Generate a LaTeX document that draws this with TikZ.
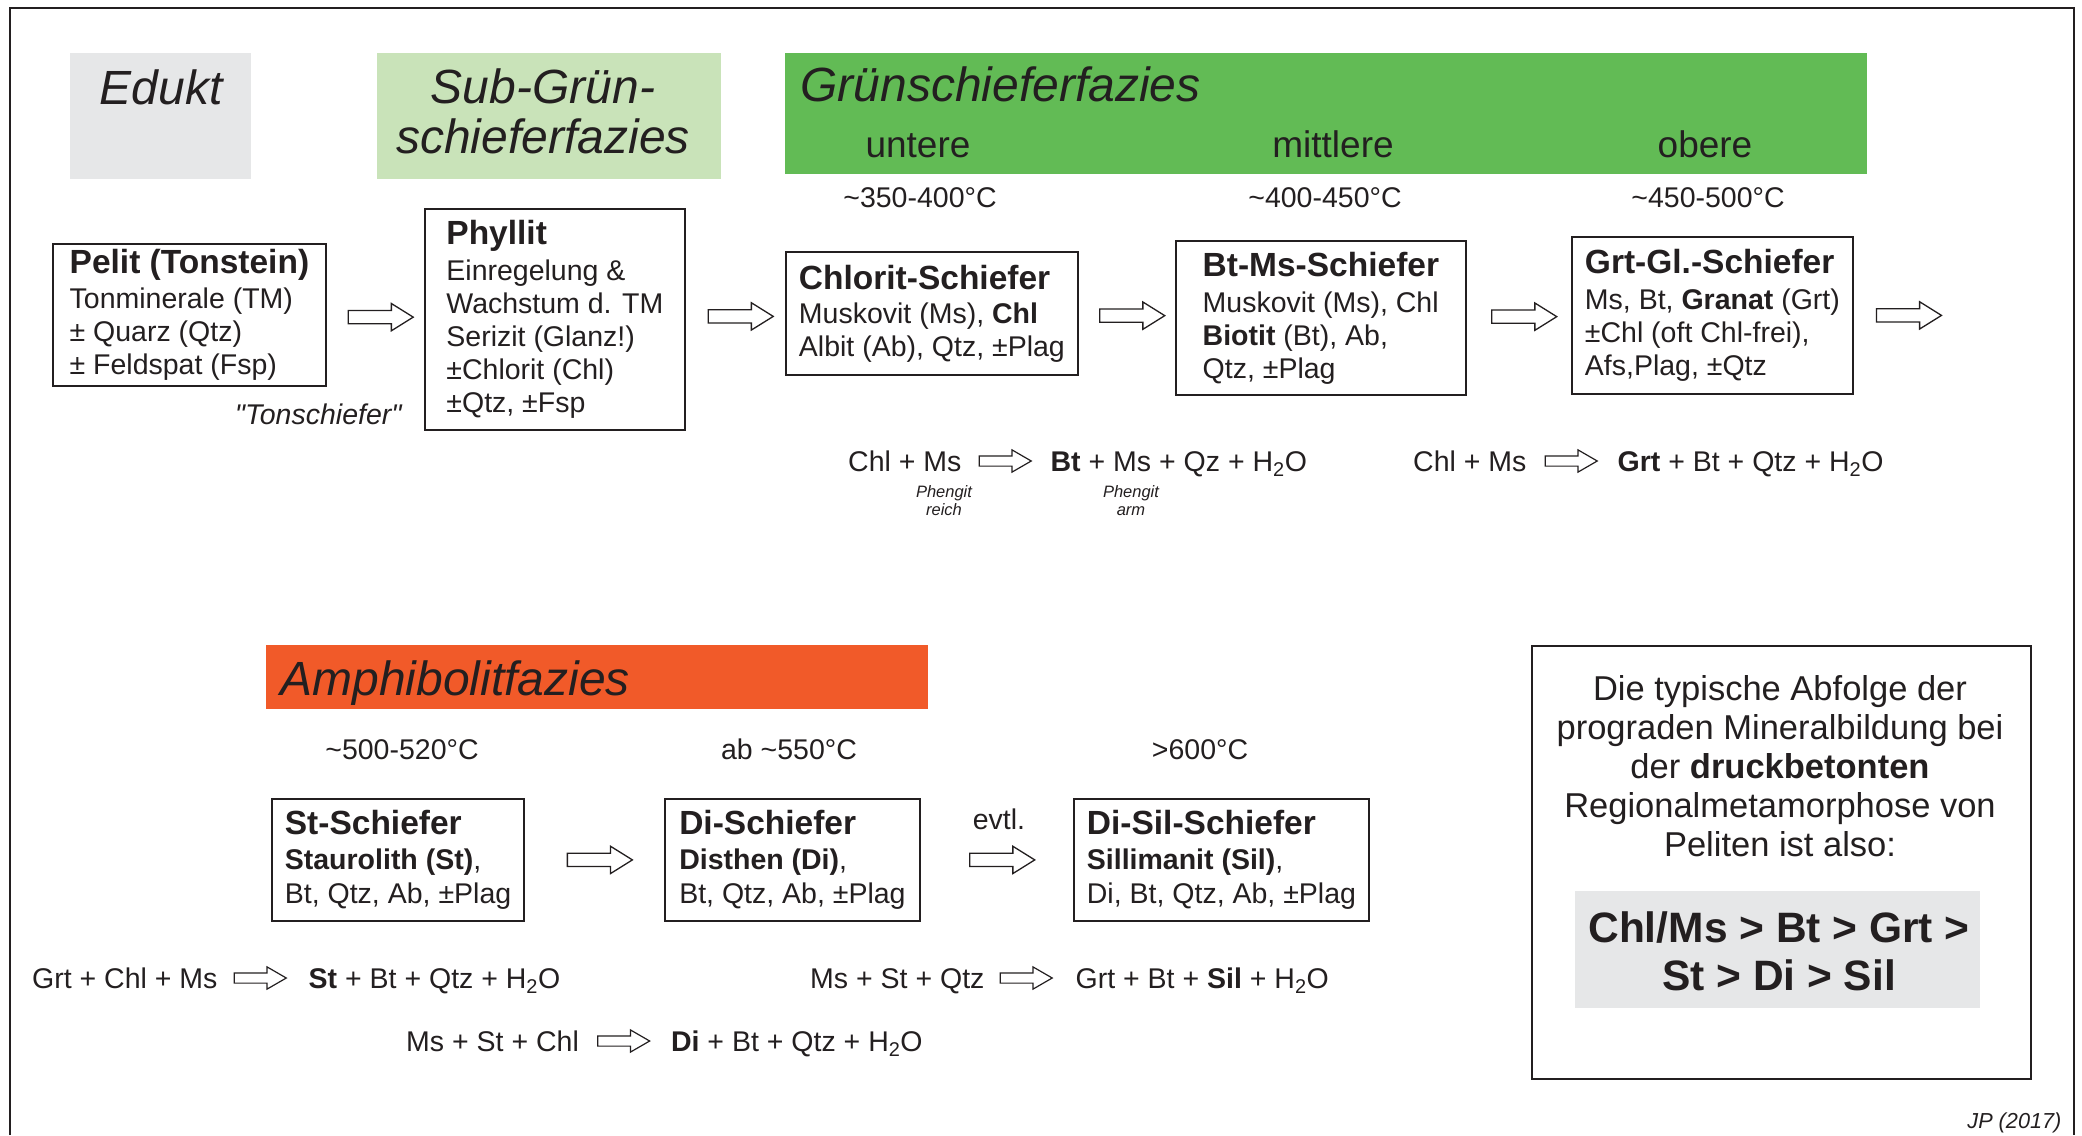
\documentclass[tikz,border=0pt]{standalone}
\usepackage{fontspec}
\setmainfont{Liberation Sans}
\usetikzlibrary{shapes.arrows,positioning,calc}
\definecolor{ink}{HTML}{231F20}
\definecolor{edgray}{HTML}{E6E7E8}
\definecolor{subgreen}{HTML}{C9E3B9}
\definecolor{grgreen}{HTML}{62BB55}
\definecolor{amorange}{HTML}{F15A29}
\newcommand{\rtitle}[1]{{\fontsize{33.5}{38}\selectfont\bfseries #1}}

\begin{document}
\begin{tikzpicture}[x=1pt,y=-1pt,
	every node/.style={text=ink},
	body/.style={font=\fontsize{28.5}{33}\selectfont},
	head/.style={font=\fontsize{48}{50}\selectfont\itshape},
	zone/.style={font=\fontsize{37}{40}\selectfont,anchor=base},
	temp/.style={body,anchor=base},
	rock/.style={body,draw=ink,line width=1.8pt,fill=white,align=left,inner xsep=13pt,inner ysep=4pt,anchor=north west},
	bigarr/.style={single arrow,draw=ink,line width=1.3pt,fill=white,inner xsep=0pt,inner ysep=6pt,minimum height=65pt,single arrow head extend=7pt,single arrow tip angle=64},
	smallarr/.style={single arrow,draw=ink,line width=1.2pt,fill=white,inner xsep=0pt,inner ysep=4.5pt,minimum height=52pt,single arrow head extend=6pt,single arrow tip angle=60},
	eq/.style={body,inner sep=0pt,text height=24pt,text depth=4pt},
	phen/.style={font=\fontsize{16.5}{18}\selectfont\itshape,align=center,anchor=north,inner sep=0pt}]

	\useasboundingbox (0,0) rectangle (2082,1135);
	\draw[ink,line width=2pt] (10,1135) -- (10,8) -- (2074,8) -- (2074,1135);

	\fill[edgray] (70,53) rectangle (251,179);
	\fill[subgreen] (377,53) rectangle (721,179);
	\fill[grgreen] (785,53) rectangle (1867,174);
	\fill[amorange] (266,645) rectangle (928,709);

	\node[head,anchor=base] (edukt) at (161,104) {Edukt};
	\node[head,align=center] (subgr) at (543,111) {Sub-Grün-\\schieferfazies};
	\node[head,anchor=base west] (gsf) at (797,101) {Grünschieferfazies};
	\node[zone] (untere) at (918,157) {untere};
	\node[zone] (mittlere) at (1333,157) {mittlere};
	\node[zone] (obere) at (1705,157) {obere};
	\node[head,anchor=base west] (amph) at (277,695) {Amphibolitfazies};

	\node[temp] (t1) at (920,207) {\textasciitilde350-400°C};
	\node[temp] (t2) at (1325,207) {\textasciitilde400-450°C};
	\node[temp] (t3) at (1708,207) {\textasciitilde450-500°C};
	\node[temp] (t4) at (402,759) {\textasciitilde500-520°C};
	\node[temp] (t5) at (789,759) {ab \textasciitilde550°C};
	\node[temp] (t6) at (1200,759) {>600°C};

	\node[rock,minimum width=273pt,minimum height=142pt] (pelit) at (52,243) {\rtitle{Pelit (Tonstein)}\\[2pt]Tonminerale (TM)\\± Quarz (Qtz)\\± Feldspat (Fsp)};
	\node[rock,minimum width=260pt,minimum height=221pt] (phyllit) at (424,208) {\rtitle{Phyllit}\\[3pt]Einregelung \&\\Wachstum d. TM\\Serizit (Glanz!)\\±Chlorit (Chl)\\±Qtz, ±Fsp};
	\node[rock,minimum width=292pt,minimum height=123pt] (chlorit) at (785,251) {\rtitle{Chlorit-Schiefer}\\[1pt]Muskovit (Ms), \textbf{Chl}\\Albit (Ab), Qtz, ±Plag};
	\node[rock,minimum width=290pt,minimum height=154pt] (btms) at (1175,240) {\rtitle{Bt-Ms-Schiefer}\\[3pt]Muskovit (Ms), Chl\\\textbf{Biotit} (Bt), Ab,\\Qtz, ±Plag};
	\node[rock,minimum width=281pt,minimum height=157pt] (grtgl) at (1571,236) {\rtitle{Grt-Gl.-Schiefer}\\[3pt]Ms, Bt, \textbf{Granat} (Grt)\\±Chl (oft Chl-frei),\\Afs,Plag, ±Qtz};
	\node[font=\fontsize{28.5}{33}\selectfont\itshape,anchor=base east] (tonsch) at (405,424) {\textquotedbl Tonschiefer\textquotedbl};

	\node[rock,minimum width=252pt,minimum height=122pt] (stsch) at (271,798) {\rtitle{St-Schiefer}\\[2pt]\textbf{Staurolith (St)},\\[1pt]Bt, Qtz, Ab, ±Plag};
	\node[rock,minimum width=255pt,minimum height=122pt] (disch) at (664,798) {\rtitle{Di-Schiefer}\\[2pt]\textbf{Disthen (Di)},\\[1pt]Bt, Qtz, Ab, ±Plag};
	\node[rock,minimum width=295pt,minimum height=122pt] (disil) at (1073,798) {\rtitle{Di-Sil-Schiefer}\\[2pt]\textbf{Sillimanit (Sil)},\\[1pt]Di, Bt, Qtz, Ab, ±Plag};

	\node[bigarr] (a1) at ($(pelit.east)!.5!(phyllit.west)$) {};
	\node[bigarr] (a2) at ($(phyllit.east)!.5!(chlorit.west)$) {};
	\node[bigarr] (a3) at ($(chlorit.east)!.5!(btms.west)$) {};
	\node[bigarr] (a4) at ($(btms.east)!.5!(grtgl.west)$) {};
	\node[bigarr,right=22pt of grtgl] (a5) {};
	\node[bigarr] (a6) at ($(stsch.east)!.5!(disch.west)$) {};
	\node[bigarr] (a7) at ($(disch.east)!.5!(disil.west)$) {};
	\node[temp] (evtl) at (999,829) {evtl.};

	\node[eq,anchor=base west] (eq1l) at (848,471) {Chl + Ms};
	\node[smallarr,right=17pt of eq1l] (eq1a) {};
	\node[eq,right=18pt of eq1a] (eq1r) {\textbf{Bt} + Ms + Qz + H\textsubscript{2}O};
	\node[phen] (ph1) at (944,485) {Phengit\\reich};
	\node[phen] (ph2) at (1131,485) {Phengit\\arm};

	\node[eq,anchor=base west] (eq2l) at (1413,471) {Chl + Ms};
	\node[smallarr,right=18pt of eq2l] (eq2a) {};
	\node[eq,right=19pt of eq2a] (eq2r) {\textbf{Grt} + Bt + Qtz + H\textsubscript{2}O};

	\node[eq,anchor=base west] (eq3l) at (32,988) {Grt + Chl + Ms};
	\node[smallarr,right=16pt of eq3l] (eq3a) {};
	\node[eq,right=21pt of eq3a] (eq3r) {\textbf{St} + Bt + Qtz + H\textsubscript{2}O};

	\node[eq,anchor=base west] (eq4l) at (810,988) {Ms + St + Qtz};
	\node[smallarr,right=15pt of eq4l] (eq4a) {};
	\node[eq,right=22pt of eq4a] (eq4r) {Grt + Bt + \textbf{Sil} + H\textsubscript{2}O};

	\node[eq,anchor=base west] (eq5l) at (406,1051) {Ms + St + Chl};
	\node[smallarr,right=18pt of eq5l] (eq5a) {};
	\node[eq,right=20pt of eq5a] (eq5r) {\textbf{Di} + Bt + Qtz + H\textsubscript{2}O};

	\node[draw=ink,line width=1.8pt,minimum width=499pt,minimum height=433pt,anchor=north west] (sumbox) at (1531,645) {};
	\node[align=center,font=\fontsize{34.5}{39}\selectfont] (sumtxt) at (1780,766) {Die typische Abfolge der\\prograden Mineralbildung bei\\der \textbf{druckbetonten}\\Regionalmetamorphose von\\Peliten ist also:};
	\fill[edgray] (1575,891) rectangle (1980,1008);
	\node[align=center,font=\fontsize{42.5}{48}\selectfont\bfseries] (order) at (1779,951) {Chl/Ms > Bt > Grt >\\St > Di > Sil};

	\node[font=\fontsize{21.7}{24}\selectfont\itshape,anchor=base east] (jp) at (2065,1128) {JP (2017)};

\end{tikzpicture}
\end{document}
